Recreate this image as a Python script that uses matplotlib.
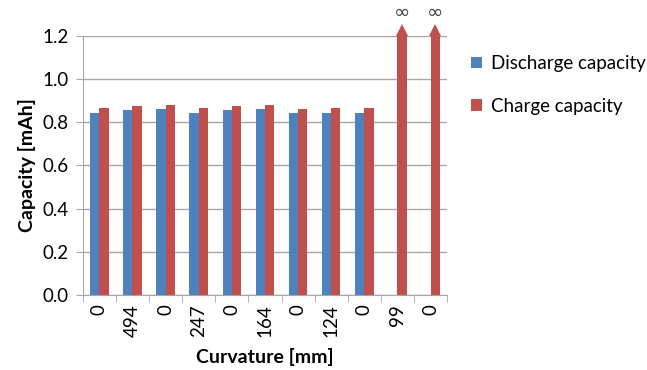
import numpy as np
import matplotlib.pyplot as plt
from matplotlib.transforms import ScaledTranslation

plt.rcParams['font.family'] = ['Lato', 'DejaVu Sans']

curvature = ['0', '494', '0', '247', '0', '164', '0', '124', '0', '99', '0']
discharge = [0.845, 0.856, 0.859, 0.845, 0.856, 0.860, 0.845, 0.845, 0.845, np.nan, np.nan]
charge = [0.865, 0.876, 0.879, 0.865, 0.873, 0.882, 0.862, 0.865, 0.865, np.inf, np.inf]

ymax = 1.2
blue = '#4F81BD'
red = '#C0504D'
grey = '#A6A6A6'

fig = plt.figure(figsize=(6.47, 3.70), dpi=100)
ax = fig.add_axes([0.128, 0.203, 0.563, 0.700])

x = np.arange(len(curvature))
w = 0.28
# infinite values are drawn up to the top of the axis with an arrow head
charge_drawn = [ymax if np.isinf(c) else c for c in charge]
ax.bar(x - w / 2, discharge, w, color=blue, label='Discharge capacity', zorder=2)
ax.bar(x + w / 2, charge_drawn, w, color=red, label='Charge capacity', zorder=2)

up = ax.transData + ScaledTranslation(0, 4.5 / 72, fig.dpi_scale_trans)
for i, c in enumerate(charge):
    if np.isinf(c):
        ax.plot([x[i] + w / 2], [ymax], marker='^', ms=9, color=red, mew=0,
                transform=up, clip_on=False, zorder=3)
        ax.annotate('∞', xy=(x[i] + w / 2, ymax), xytext=(0, 17), textcoords='offset points',
                    ha='center', va='center', fontsize=14, color='#404040',
                    family='DejaVu Sans', annotation_clip=False)

ax.set_xlim(-0.5, len(curvature) - 0.5)
ax.set_ylim(0, ymax)
ax.set_yticks(np.arange(0, 1.21, 0.2))
ax.set_yticklabels(['%.1f' % v for v in np.arange(0, 1.21, 0.2)], fontsize=13.5)
ax.yaxis.grid(True, color=grey, lw=1)
ax.set_axisbelow(True)

ax.set_xticks(x)
ax.set_xticklabels(curvature, rotation=90, fontsize=13.5)
ax.tick_params(axis='x', length=0, pad=7)
ax.set_xticks(np.arange(-0.5, len(curvature)), minor=True)
ax.tick_params(axis='x', which='minor', length=5, color=grey, direction='out')
ax.tick_params(axis='y', length=5, color=grey, direction='out', pad=5)

for s in ['top', 'right']:
    ax.spines[s].set_visible(False)
for s in ['left', 'bottom']:
    ax.spines[s].set_color(grey)

ax.set_ylabel('Capacity [mAh]', fontsize=14, fontweight='bold', labelpad=5)
ax.set_xlabel('Curvature [mm]', fontsize=14, fontweight='bold', labelpad=8)

ax.legend(loc='upper left', bbox_to_anchor=(1.02, 0.99), frameon=False, fontsize=13.5,
          handlelength=0.55, handleheight=0.55, labelspacing=1.35, handletextpad=0.5)

plt.savefig('out.png', dpi=100)
